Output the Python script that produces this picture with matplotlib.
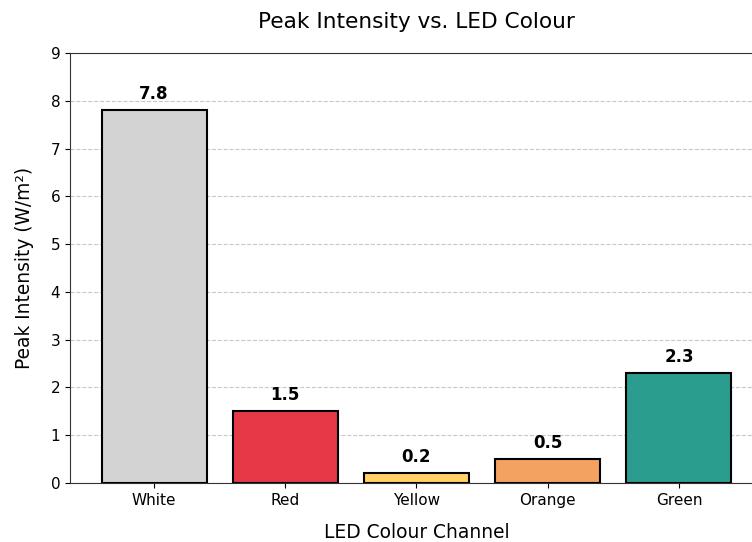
import matplotlib
matplotlib.use("Agg")
import matplotlib.pyplot as plt

categories = ["White", "Red", "Yellow", "Orange", "Green"]
values = [7.8, 1.5, 0.2, 0.5, 2.3]
colors = ["#d3d3d3", "#e63946", "#ffd166", "#f4a261", "#2a9d8f"]

fig = plt.figure(figsize=(7.52, 5.42), dpi=100)
ax = fig.add_axes([70/752, (542-483)/542, (763-70)/752, (483-53)/542])
bars = ax.bar(categories, values, color=colors, edgecolor="black", linewidth=1.5, width=0.8, zorder=3)
for b, v in zip(bars, values):
    ax.text(b.get_x() + b.get_width()/2, v + 0.15, f"{v}", ha="center", va="bottom",
            fontsize=12, fontweight="bold")
ax.set_ylim(0, 9)
ax.set_yticks(range(0, 10))
ax.grid(axis="y", linestyle="--", color="#bbbbbb", alpha=0.8, zorder=0)
ax.set_axisbelow(True)
for s in ax.spines.values():
    s.set_color("#333333")
ax.set_title("Peak Intensity vs. LED Colour", fontsize=15.6, pad=18)
ax.set_xlabel("LED Colour Channel", fontsize=13.4, labelpad=11)
ax.set_ylabel("Peak Intensity (W/m²)", fontsize=13.4, labelpad=12)
ax.tick_params(labelsize=11)
fig.savefig("out.png", dpi=100)
